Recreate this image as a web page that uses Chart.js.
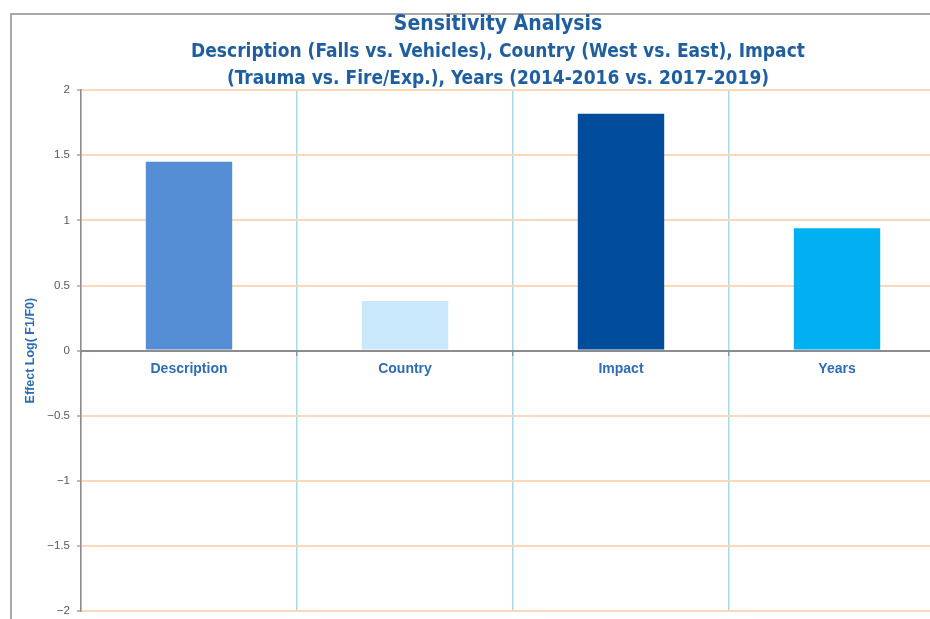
<!DOCTYPE html>
<html>
<head>
<meta charset="utf-8">
<title>Sensitivity Analysis</title>
<script src="https://cdn.jsdelivr.net/npm/chart.js@4.4.1/dist/chart.umd.min.js"></script>
<style>
  html, body { margin: 0; padding: 0; background: #ffffff; width: 930px; height: 619px; overflow: hidden; }
  #frame { position: absolute; left: 10px; top: 13px; width: 1000px; height: 700px;
           border-left: 2px solid #a8a8a8; border-top: 2px solid #a8a8a8; }
  #wrap { position: absolute; left: 0; top: 0; width: 996px; height: 619px; }
</style>
</head>
<body>
<div id="frame"></div>
<div id="wrap"><canvas id="chart" width="996" height="619"></canvas></div>
<script>
// Factors and their effect sizes, log(F1/F0)
const categories = ['Description', 'Country', 'Impact', 'Years'];
const effects = [1.45, 0.38, 1.82, 0.94];
const barColors = ['#558ED5', '#C9E8FC', '#024C9C', '#00B0F0'];
const yTicks = [-2, -1.5, -1, -0.5, 0, 0.5, 1, 1.5, 2];

const titleText = 'Sensitivity Analysis';
const subtitleLines = [
  'Description (Falls vs. Vehicles), Country (West vs. East), Impact',
  '(Trauma vs. Fire/Exp.), Years (2014-2016 vs. 2017-2019)'
];

const headingFont = "'Liberation Sans Narrow', 'DejaVu Sans Condensed', 'Liberation Sans', sans-serif";
const bodyFont = "'Liberation Sans', Arial, sans-serif";

new Chart(document.getElementById('chart'), {
  type: 'bar',
  data: {
    labels: categories,
    datasets: [{
      data: effects,
      backgroundColor: barColors,
      borderWidth: 0,
      barPercentage: 0.4,
      categoryPercentage: 1.0
    }]
  },
  options: {
    responsive: false,
    animation: false,
    layout: { padding: { left: 0, right: 0, top: 0, bottom: 8 } },
    plugins: {
      legend: { display: false },
      tooltip: { enabled: false },
      title: {
        display: true,
        text: titleText,
        color: '#1F5E9F',
        font: { family: headingFont, size: 21, weight: 'bold', lineHeight: 1.2 },
        padding: { top: 12, bottom: 0 }
      },
      subtitle: {
        display: true,
        text: subtitleLines,
        color: '#1F5E9F',
        font: { family: headingFont, size: 19, weight: 'bold', lineHeight: 27 / 19 },
        padding: { top: 1.5, bottom: -2.5 }
      }
    },
    scales: {
      x: {
        position: { y: 0 },
        afterFit(scale) {
          scale.paddingTop = 0;
          scale.paddingBottom = 0;
        },
        grid: {
          color: '#A9D8EA',
          lineWidth: 1.5,
          offset: true,
          drawTicks: true,
          tickLength: 4,
          tickColor: '#8c8c8c',
          tickWidth: 1.2
        },
        border: { display: true, color: '#8c8c8c', width: 2 },
        ticks: {
          color: '#2E6DB4',
          padding: 6,
          font: { family: bodyFont, size: 14, weight: 'bold' }
        }
      },
      y: {
        min: -2,
        max: 2,
        afterBuildTicks(scale) {
          scale.ticks = yTicks.map(v => ({ value: v }));
        },
        afterFit(scale) {
          scale.width = 81;
          scale.paddingTop = 0;
          scale.paddingBottom = 0;
        },
        grid: {
          color: '#FCD8BA',
          lineWidth: 2,
          drawTicks: true,
          tickLength: 4,
          tickColor: '#8c8c8c',
          tickWidth: 1.2
        },
        border: { display: true, color: '#8c8c8c', width: 1.5 },
        ticks: {
          color: '#595959',
          padding: 7,
          font: { family: bodyFont, size: 11.5 },
          callback: v => (v < 0 ? '\u2212' + String(Math.abs(v)) : String(v))
        },
        title: {
          display: true,
          text: 'Effect Log( F1/F0)',
          color: '#2E6DB4',
          font: { family: bodyFont, size: 12.5, weight: 'bold' },
          padding: { top: 23, bottom: 0 }
        }
      },
      yRight: {
        position: 'right',
        display: true,
        grid: { display: false },
        border: { display: false },
        ticks: { display: false },
        afterFit(scale) { scale.width = 51; }
      }
    }
  }
});
</script>
</body>
</html>
